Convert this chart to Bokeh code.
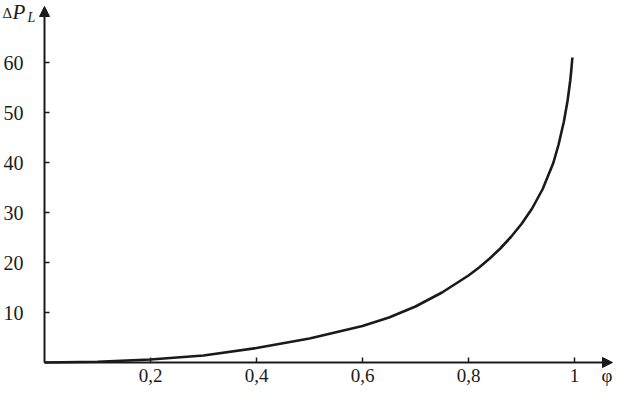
from bokeh.plotting import figure
from bokeh.models import Arrow, NormalHead, Label, Range1d
from bokeh.core.properties import value
from bokeh.embed import file_html
from bokeh.resources import INLINE

# Data
phi = [0, 0.1, 0.2, 0.3, 0.4, 0.5, 0.6, 0.65, 0.7, 0.75, 0.8, 0.82, 0.84, 0.86, 0.88,
       0.9, 0.92, 0.94, 0.96, 0.97, 0.98, 0.987, 0.992, 0.994, 0.996]
dP = [0, 0.15, 0.6, 1.4, 2.9, 4.8, 7.3, 9.0, 11.2, 14.0, 17.4, 19.0, 20.8, 22.8, 25.1,
      27.7, 30.8, 34.7, 39.9, 43.6, 48.2, 52.4, 56.4, 58.5, 61.0]

x_ticks = [0.2, 0.4, 0.6, 0.8, 1]
x_tick_labels = ["0,2", "0,4", "0,6", "0,8", "1"]
y_ticks = [10, 20, 30, 40, 50, 60]
y_tick_labels = ["10", "20", "30", "40", "50", "60"]

W, H = 613, 387
X0PX, Y0PX = 44, 362          # pixel position of the origin in the canvas
SX, SY = 530.0, 5.0           # pixels per data unit

def dx(px):
    return px / SX

def dy(px):
    return px / SY

x_lo, x_hi = -dx(X0PX), dx(W - X0PX)
y_lo, y_hi = -dy(H - Y0PX), dy(Y0PX)
XEND = dx(612 - X0PX)
YEND = dy(Y0PX - 6)

INK = "#1a1a1a"
FONT = "Liberation Serif"

p = figure(width=W, height=H, x_range=Range1d(x_lo, x_hi), y_range=Range1d(y_lo, y_hi),
           output_backend="svg", toolbar_location=None,
           min_border_left=0, min_border_right=0, min_border_top=0, min_border_bottom=0)
p.axis.visible = False
p.outline_line_color = None
p.grid.visible = False

# axes with arrow heads
p.add_layout(Arrow(end=NormalHead(size=10, fill_color=INK, line_color=INK, line_width=1),
                   x_start=0, y_start=0, x_end=XEND, y_end=0,
                   line_color=INK, line_width=2))
p.add_layout(Arrow(end=NormalHead(size=10, fill_color=INK, line_color=INK, line_width=1),
                   x_start=0, y_start=0, x_end=0, y_end=YEND,
                   line_color=INK, line_width=2))

# tick marks (inside)
p.segment(x0=x_ticks, y0=[0] * len(x_ticks), x1=x_ticks, y1=[dy(5)] * len(x_ticks),
          line_color=INK, line_width=1.5)
p.segment(x0=[0] * len(y_ticks), y0=y_ticks, x1=[dx(5)] * len(y_ticks), y1=y_ticks,
          line_color=INK, line_width=1.5)

# tick labels
p.text(x=x_ticks, y=[-dy(13)] * len(x_ticks), text=x_tick_labels,
       text_font=value(FONT), text_font_size="19px", text_color=INK,
       text_align="center", text_baseline="middle")
p.text(x=[-dx(21)] * len(y_ticks), y=y_ticks, text=y_tick_labels,
       text_font=value(FONT), text_font_size="20px", text_color=INK,
       text_align="right", text_baseline="middle")

# curve
p.line(phi, dP, line_color=INK, line_width=2.6)

# axis titles
p.add_layout(Label(x=-dx(42), y=y_hi, text="Δ", text_font=FONT, text_font_size="15px",
                   text_color=INK, text_baseline="top", y_offset=-4))
p.add_layout(Label(x=-dx(32), y=y_hi, text="P", text_font=FONT, text_font_style="italic",
                   text_font_size="21px", text_color=INK, text_baseline="top", y_offset=1))
p.add_layout(Label(x=-dx(17), y=y_hi, text="L", text_font=FONT, text_font_style="italic",
                   text_font_size="14px", text_color=INK, text_baseline="top", y_offset=-9))
p.add_layout(Label(x=XEND, y=-dy(13), text="φ", text_font=FONT, text_font_size="19px",
                   text_color=INK, text_align="right", text_baseline="middle"))

open("out.html", "w").write(file_html(p, INLINE))
